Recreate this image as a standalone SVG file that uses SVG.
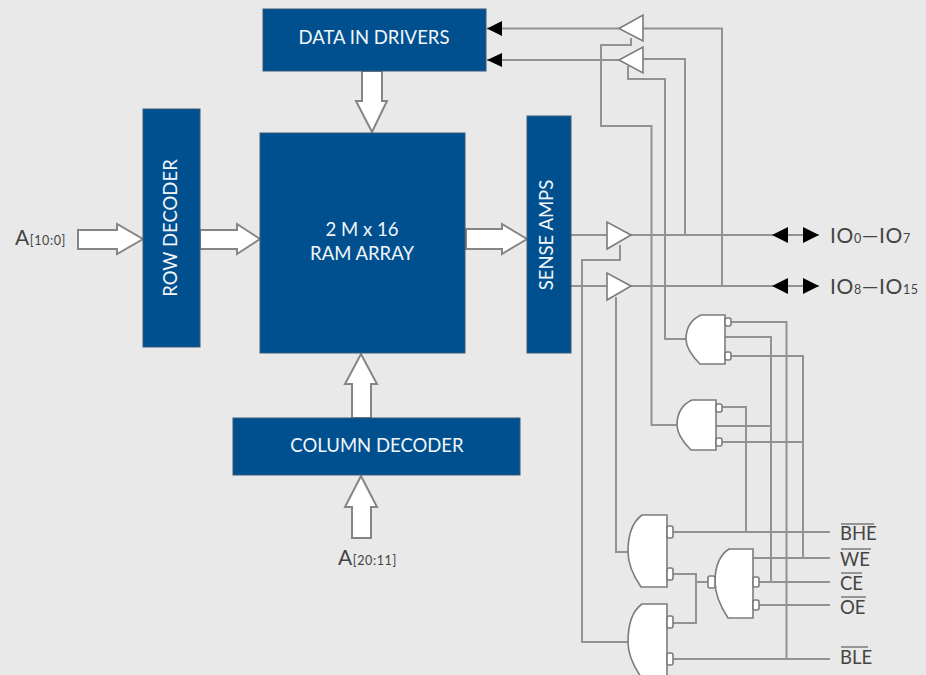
<svg xmlns="http://www.w3.org/2000/svg" width="926" height="675" viewBox="0 0 926 675">
<style>
.blk{fill:#00508f;stroke:#3a5a78;stroke-width:1}
.bt{fill:#f2f6fa;font-family:"Lato","Liberation Sans",sans-serif;font-size:18.5px;text-anchor:middle}
.w{fill:none;stroke:#929292;stroke-width:2}
.fat{fill:#fff;stroke:#858585;stroke-width:2;stroke-linejoin:miter}
.g{fill:#fff;stroke:#7c7c7c;stroke-width:1.6}
.bub{fill:#fff;stroke:#7c7c7c;stroke-width:1.6}
.k{fill:#000;stroke:none}
.t{fill:#444;font-family:"Lato","Liberation Sans",sans-serif;font-size:18.500px}
.big{font-size:21px;letter-spacing:.6px}
.s{font-size:12.500px}
.ov{fill:none;stroke:#444;stroke-width:1}
</style>
<rect width="926" height="675" fill="#e9e9e9"/>
<g id="connectors">
<path class="w" d="M487 28.5H619M643 28.5H722V286"/>
<path class="w" d="M487 60H619M643 59H685V235"/>
<path class="w" d="M631 38V45H601V126H651.500V425H677"/>
<path class="w" d="M628 66V79H665V339H686"/>
<path class="w" d="M571 235H819M571 286H819"/>
<path class="w" d="M620 245V260H582V642H628"/>
<path class="w" d="M616 297V552H628"/>
<path class="w" d="M731 322H786.500V659M725 337H771V582M731 356H803V558"/>
<path class="w" d="M722 407H746V532M716 426H771M722 442H803"/>
<path class="w" d="M673 532H830M753 558H830M759 582H830M759 605H830M673 659H830"/>
<path class="w" d="M673 574H696V623H673M696 582H708"/>
<path class="k" d="M487 28.500L502 21V36Z"/>
<path class="k" d="M487 60L502 53V67Z"/>
<path class="k" d="M772 235L788 227V243ZM819 235L803 227V243Z"/>
<path class="k" d="M772 286L788 278V294ZM819 286L803 278V294Z"/>
<path class="fat" d="M78 230H117V224L143 239L117 254V249H78Z"/>
<path class="fat" d="M200 230H237V224L260 239L237 254V249H200Z"/>
<path class="fat" d="M466 229H502V224L527 239L502 254V249H466Z"/>
<path class="fat" d="M362 71H382V101H387L372 132L356 101H362Z"/>
<path class="fat" d="M352 418V384H345L361 354L377 384H371V418Z"/>
<path class="fat" d="M352 538V507H345L361 476L377 507H371V538Z"/>
</g>
<g id="data-in-drivers"><rect class="blk" x="263" y="9" width="223" height="62"/><text class="bt" x="374" y="44">DATA IN DRIVERS</text></g>
<g id="row-decoder"><rect class="blk" x="143" y="109" width="57" height="238"/><text class="bt" transform="translate(177 228) rotate(-90)">ROW DECODER</text></g>
<g id="ram-array"><rect class="blk" x="260" y="133" width="205" height="220"/><text class="bt" x="362" y="236">2 M x 16</text><text class="bt" x="362" y="260">RAM ARRAY</text></g>
<g id="sense-amps"><rect class="blk" x="527" y="116" width="44" height="237"/><text class="bt" transform="translate(553 235) rotate(-90)">SENSE AMPS</text></g>
<g id="column-decoder"><rect class="blk" x="233" y="418" width="287" height="57"/><text class="bt" x="377" y="452">COLUMN DECODER</text></g>
<g id="buf-in-1"><path class="g" d="M619 28.500L643 15V41Z"/></g>
<g id="buf-in-2"><path class="g" d="M619 60L643 47V73Z"/></g>
<g id="buf-out-1"><path class="g" d="M631 235L607 222V249Z"/></g>
<g id="buf-out-2"><path class="g" d="M631 286L607 273V300Z"/></g>
<g id="gate-1"><path class="g" d="M725 315H701Q686 322 686 339Q686 350 700 364H725Z"/><rect class="bub" x="725" y="318" width="6" height="8" rx="2"/><rect class="bub" x="725" y="352" width="6" height="8" rx="2"/></g>
<g id="gate-2"><path class="g" d="M716 400H692Q677 407 677 425Q677 436 691 450H716Z"/><rect class="bub" x="716" y="404" width="6" height="8" rx="2"/><rect class="bub" x="716" y="438" width="6" height="8" rx="2"/></g>
<g id="gate-3"><path class="g" d="M667 515H642Q628 525 628 552Q628 568 641 587H667Z"/><rect class="bub" x="667" y="526" width="6" height="12" rx="2"/><rect class="bub" x="667" y="568" width="6" height="12" rx="2"/></g>
<g id="gate-4"><path class="g" d="M667 604H642Q628 614 628 642Q628 658 641 677H667Z"/><rect class="bub" x="667" y="616" width="6" height="12" rx="2"/><rect class="bub" x="667" y="653" width="6" height="12" rx="2"/></g>
<g id="gate-5"><path class="g" d="M753 549H729Q715 558 715 582Q715 598 728 618H753Z"/><rect class="bub" x="708" y="576" width="7" height="12" rx="2"/><rect class="bub" x="753" y="577" width="6" height="10" rx="2"/><rect class="bub" x="753" y="600" width="6" height="10" rx="2"/></g>
<g id="labels">
<text class="t big" x="15" y="245">A<tspan class="s">[10:0]</tspan></text>
<text class="t big" x="338" y="565">A<tspan class="s">[20:11]</tspan></text>
<text class="t big" x="830" y="243">IO<tspan class="s">0</tspan>—IO<tspan class="s">7</tspan></text>
<text class="t big" x="830" y="294">IO<tspan class="s">8</tspan>—IO<tspan class="s">15</tspan></text>
<text class="t" x="840" y="540">BHE</text><path class="ov" d="M841 524H874"/>
<text class="t" x="840" y="566">WE</text><path class="ov" d="M841 549H871"/>
<text class="t" x="840" y="590">CE</text><path class="ov" d="M841 573H862"/>
<text class="t" x="840" y="614">OE</text><path class="ov" d="M841 597H866"/>
<text class="t" x="840" y="664">BLE</text><path class="ov" d="M841 647H868"/>
</g>
</svg>
